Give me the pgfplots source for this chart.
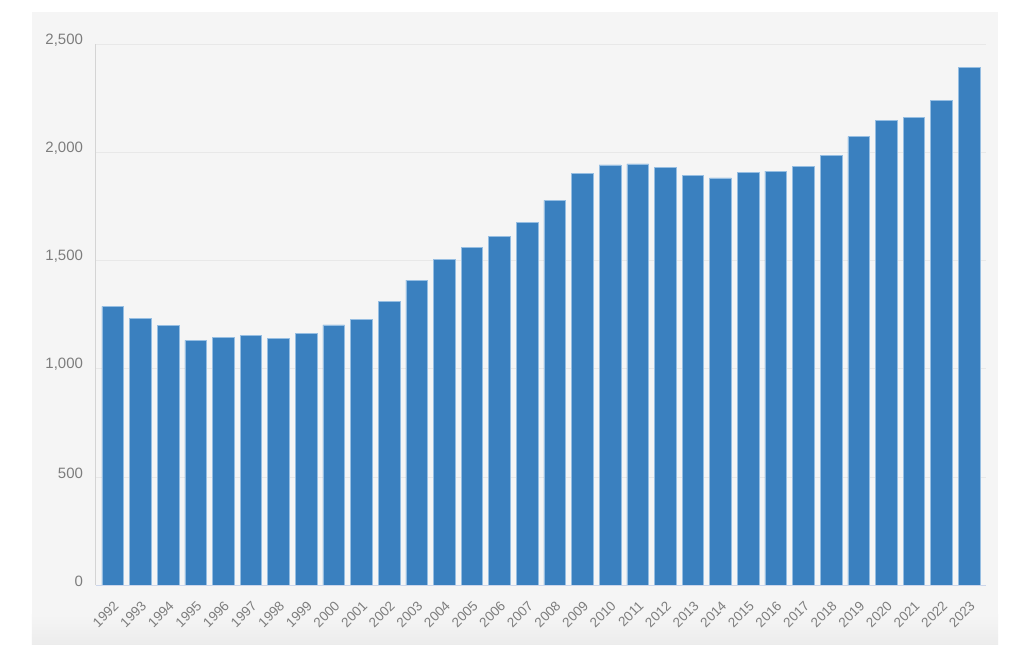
\documentclass[border=0pt]{standalone}
\usepackage{pgfplots}
\pgfplotsset{compat=1.18}
\usepackage{fontspec}
\setmainfont{Liberation Sans}

\definecolor{panel}{RGB}{245,245,245}
\definecolor{panelshade}{RGB}{236,236,236}
\definecolor{barblue}{RGB}{58,128,191}
\definecolor{baredge}{RGB}{150,190,226}
\definecolor{ticktext}{RGB}{125,125,125}
\definecolor{gridgray}{RGB}{232,232,232}
\definecolor{yaxisgray}{RGB}{212,212,212}
\definecolor{xaxisblue}{RGB}{204,214,235}

\begin{document}
\begin{tikzpicture}[x=1bp,y=1bp]
\useasboundingbox (-95.7,-87) rectangle (928.3,585);
\fill[white] (-95.7,-87) rectangle (928.3,585);
\fill[panel] (-63.7,-60) rectangle (902.3,573);
\shade[top color=panel, bottom color=panelshade] (-63.7,-60) rectangle (902.3,-30);

\begin{axis}[
  at={(0,0)}, anchor=south west,
  scale only axis,
  width=890bp, height=540.7bp,
  xmin=1991.38, xmax=2023.6,
  ymin=0, ymax=2500,
  ytick={0,500,1000,1500,2000,2500},
  xtick=data,
  axis lines*=left,
  x axis line style={draw=xaxisblue, line width=0.8bp},
  y axis line style={draw=yaxisgray, line width=0.8bp},
  major tick length=0pt,
  ymajorgrids,
  grid style={draw=gridgray, line width=0.6bp},
  /pgf/number format/assume math mode=true,
  /pgf/number format/1000 sep={,},
  x tick label style={/pgf/number format/1000 sep={}},
  xticklabel style={rotate=45, anchor=north east, inner sep=0pt,
    font=\fontsize{13.5bp}{14bp}\selectfont, text=ticktext},
  xticklabel shift=15bp,
  yticklabel style={anchor=east, inner sep=0pt, xshift=-12.5bp, yshift=4bp,
    font=\fontsize{15bp}{16bp}\selectfont, text=ticktext},
  ybar,
  bar width=21.7bp,
]
\addplot [fill=barblue, draw=baredge, line width=0.6bp]
coordinates {
(1992,1288) (1993,1231) (1994,1202) (1995,1131) (1996,1143) (1997,1154)
(1998,1139) (1999,1162) (2000,1203) (2001,1228) (2002,1312) (2003,1410)
(2004,1506) (2005,1561) (2006,1612) (2007,1678) (2008,1778) (2009,1903)
(2010,1942) (2011,1947) (2012,1929) (2013,1892) (2014,1882) (2015,1909)
(2016,1914) (2017,1936) (2018,1988) (2019,2073) (2020,2148) (2021,2162)
(2022,2240) (2023,2392)
};
\end{axis}
\end{tikzpicture}
\end{document}
